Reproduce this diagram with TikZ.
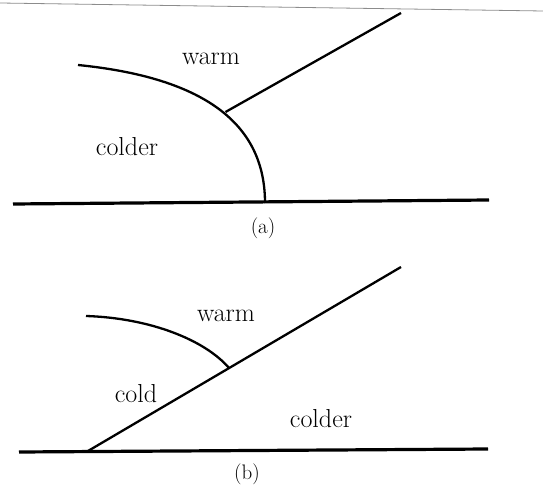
\documentclass[tikz,border=0pt]{standalone}
\begin{document}
\begin{tikzpicture}[x=1pt,y=-1pt,
  ground/.style={line width=3.2pt},
  front/.style={line width=2.3pt},
  lbl/.style={font=\fontsize{26}{30}\selectfont, inner sep=0pt},
  panelcap/.style={font=\fontsize{21}{25}\selectfont, inner sep=0pt}]
\useasboundingbox (0,0) rectangle (543,486);
% scan edge
\draw[black!45, line width=0.8pt] (0,3) -- (543,11);
% ---- panel (a)
\coordinate (ga1) at (13,204);
\coordinate (ga2) at (489,200);
\coordinate (ca0) at (78,65);
\coordinate (ca1) at (265,203);
\coordinate (ja) at (225.5,112);
\coordinate (ta) at (401,13);
\draw[ground] (ga1) -- (ga2);
\draw[front] (ca0) .. controls (218,79) and (265,133) .. (ca1);
\draw[front] (ja) -- (ta);
\node[lbl] (wa) at (211,59) {warm};
\node[lbl] (cda) at (127,147) {colder};
\node[panelcap] (a) at (263,228) {(a)};
% ---- panel (b)
\coordinate (gb1) at (19,452);
\coordinate (gb2) at (488,449);
\coordinate (db0) at (88,451);
\coordinate (db1) at (401,267);
\coordinate (cb0) at (86,316);
\coordinate (jb) at (229,368);
\draw[ground] (gb1) -- (gb2);
\draw[front] (db0) -- (db1);
\draw[front] (cb0) .. controls (150,318) and (205,340) .. (jb);
\node[lbl] (wb) at (226,316) {warm};
\node[lbl] (cb) at (136,394) {cold};
\node[lbl] (cdb) at (321,419) {colder};
\node[panelcap] (b) at (247,474) {(b)};
\end{tikzpicture}
\end{document}
